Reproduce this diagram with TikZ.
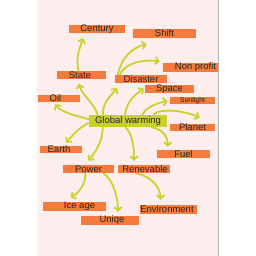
\documentclass[tikz,border=0pt]{standalone}
\usepackage{fontspec}
\setmainfont{Liberation Sans}
\usetikzlibrary{arrows.meta,calc,backgrounds}
\definecolor{bgpink}{HTML}{FDEEEE}
\definecolor{boxor}{HTML}{F47B3B}
\definecolor{arrgr}{HTML}{C9D32B}
\definecolor{gwfill}{HTML}{C8D02A}
\definecolor{edgegray}{HTML}{B4B4B4}
\begin{document}
\begin{tikzpicture}[x=1pt,y=-1pt,
  box/.style={fill=boxor,inner sep=0pt,font=\fontsize{9.5}{10}\selectfont,text=black!85},
  arr/.style={draw=arrgr,line width=1.8pt,-{Straight Barb[length=3.5pt,width=7.5pt]}}]
\useasboundingbox (0,0) rectangle (256,256);
% nodes
\node[box,minimum width=56pt,minimum height=8pt] (century) at (97,29) {Century};
\node[box,minimum width=63pt,minimum height=9pt] (shift) at (164.5,33.5) {Shift};
\node[box,minimum width=55pt,minimum height=9pt] (nonprofit) at (190.5,67.5) {\hspace*{10pt}Non profit};
\node[box,minimum width=49pt,minimum height=8pt] (state) at (81.5,75) {State\hspace*{3pt}};
\node[box,minimum width=52pt,minimum height=8pt] (disaster) at (141,79) {Disaster};
\node[box,minimum width=49pt,minimum height=8pt] (space) at (169.5,89) {Space};
\node[box,minimum width=42pt,minimum height=7pt] (oil) at (59,98.5) {Oil\hspace*{7pt}};
\node[box,minimum width=45pt,minimum height=7pt,font=\fontsize{7}{8}\selectfont] (sunlight) at (192.5,100.5) {Sunlight};
\node[box,fill=gwfill,minimum width=78pt,minimum height=12pt] (gw) at (128,121) {Global warming};
\node[box,minimum width=45pt,minimum height=7pt] (planet) at (192.5,127.5) {Planet};
\node[box,minimum width=42pt,minimum height=7pt] (earth) at (61,149.5) {Earth\hspace*{4pt}};
\node[box,minimum width=53pt,minimum height=8pt] (fuel) at (183.5,154) {Fuel};
\node[box,minimum width=51pt,minimum height=8pt] (power) at (88.5,169) {Power};
\node[box,minimum width=52pt,minimum height=8pt] (renev) at (144,169) {\hspace*{2pt}Renevable};
\node[box,minimum width=63pt,minimum height=9pt] (iceage) at (74.5,206.5) {\hspace*{10pt}Ice age};
\node[box,minimum width=57pt,minimum height=9pt] (environment) at (168.5,209.5) {Environment\hspace*{3pt}};
\node[box,minimum width=58pt,minimum height=9pt] (uniqe) at (110,220.5) {\hspace*{4pt}Uniqe};
\begin{pgfonlayer}{background}
\fill[white] (0,0) rectangle (256,256);
\fill[bgpink] (37,0) rectangle (218,256);
\draw[edgegray,line width=0.8pt] (218,0) -- (218,256);
% connectors
\draw[arr] ($(gw.north west)+(9,0)$) .. controls +(-4,-12) and +(2,10) .. ($(state.south)+(-2.5,4.5)$);
\draw[arr] ($(gw.west)+(3,-1)$) .. controls +(-15,-4) and +(6,8) .. ($(oil.south)+(-4,2)$);
\draw[arr] ($(gw.west)+(0,2)$) .. controls +(-8,3) and +(6,-7) .. ($(earth.north)+(5,-3)$);
\draw[arr] ($(gw.south west)+(14,0)$) .. controls +(0,15) and +(6,-8) .. ($(power.north)+(0,-4)$);
\draw[arr] ($(gw.south)+(-3,0)$) .. controls +(8,6) and +(0,-12) .. ($(renev.north)+(-10,-4)$);
\draw[arr] ($(gw.south east)+(-16,0)$) .. controls +(12,2) and +(0,-10) .. ($(fuel.north west)+(11,-3)$);
\draw[arr] ($(gw.north east)+(-14,0)$) .. controls +(8,-8) and +(-12,-6) .. ($(planet.north west)+(30,-6)$);
\draw[arr] ($(gw.north east)+(-25,0)$) .. controls +(4,-8) and +(-10,2) .. ($(sunlight.west)+(-2,0.5)$);
\draw[arr] ($(gw.north)+(-3,0)$) .. controls +(2,-15) and +(-8,6) .. ($(space.south west)+(-1,-5)$);
\draw[arr] ($(gw.north west)+(14,0)$) .. controls +(0,-14) and +(-5,8) .. ($(disaster.south west)+(2,4.5)$);
\draw[arr] ($(state.north)+(-3,0)$) .. controls +(-3,-15) and +(-3,10) .. ($(century.south)+(-14,4.5)$);
\draw[arr] ($(disaster.north west)+(3,0)$) .. controls +(4,-18) and +(-14,3) .. ($(shift.south west)+(14,6)$);
\draw[arr] ($(disaster.north west)+(5,0)$) .. controls +(6,-14) and +(-12,-2) .. ($(nonprofit.west)+(-3,-6)$);
\draw[arr] ($(power.south)+(-3,0)$) .. controls +(0,12) and +(8,-5) .. ($(iceage.north)+(-4,-4)$);
\draw[arr] ($(power.south east)+(-11,0)$) .. controls +(10,6) and +(0,-14) .. ($(uniqe.north)+(8,-4)$);
\draw[arr] ($(renev.south)+(-9,0)$) .. controls +(14,2) and +(0,-14) .. ($(environment.north)+(-8,-5)$);
\end{pgfonlayer}
\end{tikzpicture}
\end{document}
